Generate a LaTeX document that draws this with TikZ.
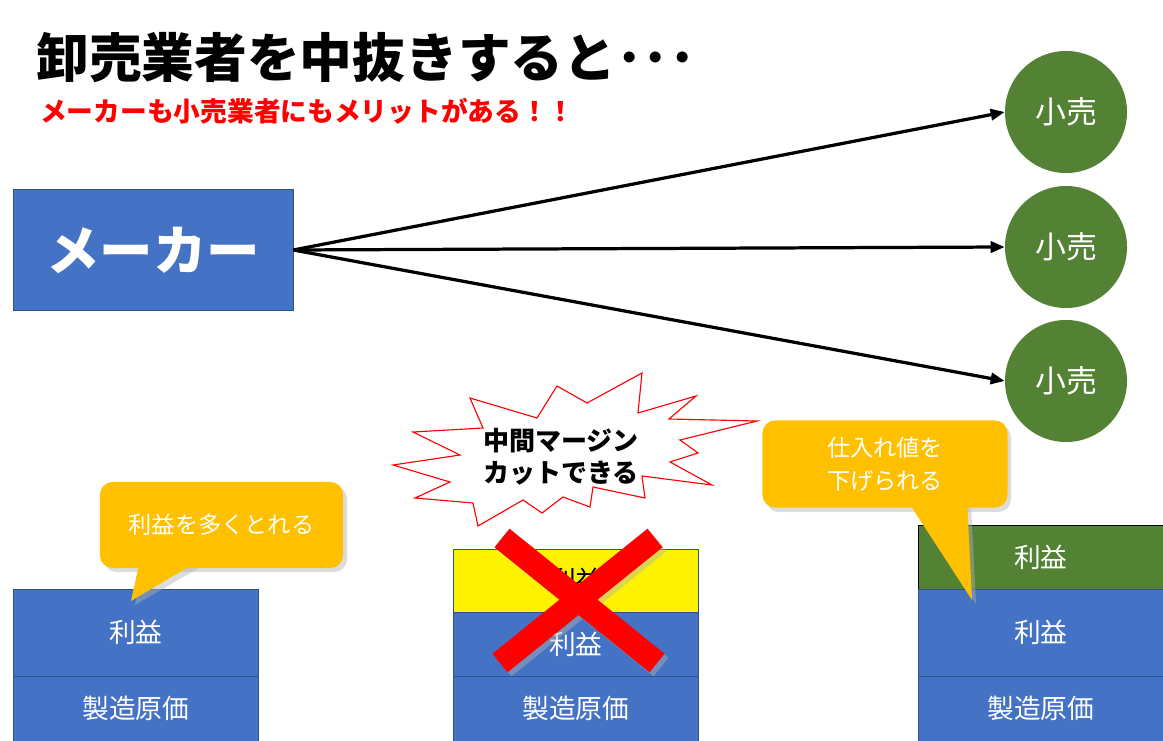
\documentclass[tikz,border=0pt]{standalone}
\usepackage{fontspec}
\setmainfont{Noto Sans CJK JP}
\usetikzlibrary{arrows.meta, positioning}
\definecolor{makerblue}{RGB}{68, 114, 196}
\definecolor{edgeblue}{RGB}{47, 82, 143}
\definecolor{shopgreen}{RGB}{84, 130, 53}
\definecolor{calloutgold}{RGB}{255, 192, 0}

\begin{document}
\begin{tikzpicture}[x=0.025cm, y=-0.025cm,
  maker/.style={draw=edgeblue, fill=makerblue, text=white, minimum width=7cm, minimum height=3.025cm, inner sep=0pt, font=\bfseries\fontsize{38}{44}\selectfont},
  shop/.style={circle, fill=shopgreen, text=white, minimum size=3.05cm, inner sep=0pt, font=\fontsize{22}{26}\selectfont},
  layer/.style={draw=edgeblue, fill=makerblue, text=white, minimum width=6.125cm, anchor=north west, inner sep=0pt, font=\fontsize{19}{22}\selectfont},
  sell/.style={-{Triangle[length=10pt, width=8pt]}, line width=2.3pt},
  callout/.style={fill=calloutgold, rounded corners=9pt, text=white, align=center, inner sep=0pt, font=\fontsize{16.5}{23}\selectfont},
  shade/.style={fill=black!30, opacity=0.45}
]
  \useasboundingbox (0,0) rectangle (1163,741);

  % heading
  \node[anchor=west, inner sep=0pt, font=\bfseries\fontsize{37.5}{42}\selectfont] (title) at (36,58) {卸売業者を中抜きすると･･･};
  \node[anchor=west, inner sep=0pt, text=red, font=\bfseries\fontsize{19}{22}\selectfont] (merit) at (40,111) {メーカーも小売業者にもメリットがある！！};

  % maker and shops
  \node[maker] (maker) at (153,250) {メーカー};
  \node[shop] (shop1) at (1066,112) {小売};
  \node[shop] (shop2) at (1066,247) {小売};
  \node[shop] (shop3) at (1066,381) {小売};
  \draw[sell] (maker.east) -- (shop1.west);
  \draw[sell] (maker.east) -- (shop2.west);
  \draw[sell] (maker.east) -- (shop3.west);

  % left stack
  \node[layer, minimum height=2.175cm] (profitL) at (13,589) {利益};
  \node[layer, minimum height=1.625cm] (costL) at (13,676) {製造原価};

  % middle stack
  \node[layer, fill=yellow, text=black, minimum height=1.575cm] (marginM) at (453,549) {利益};
  \node[layer, minimum height=1.6cm] (profitM) at (453,612) {利益};
  \node[layer, minimum height=1.625cm] (costM) at (453,676) {製造原価};

  % right stack
  \node[layer, draw=black, fill=shopgreen, minimum height=1.6cm] (shopR) at (918,525) {利益};
  \node[layer, minimum height=2.175cm] (profitR) at (918,589) {利益};
  \node[layer, minimum height=1.625cm] (costR) at (918,676) {製造原価};

  % callouts
  \fill[shade, rounded corners=9pt] (104,486) rectangle (347,572);
  \fill[shade] (144,565) -- (135,605) -- (204,565) -- cycle;
  \fill[calloutgold] (140,560) -- (131,601) -- (200,560) -- cycle;
  \node[callout, minimum width=6.075cm, minimum height=2.15cm] (moreL) at (221.5,525) {利益を多くとれる};

  \fill[shade, rounded corners=9pt] (766,425) rectangle (1011,512);
  \fill[shade] (911,505) -- (976,604) -- (971,505) -- cycle;
  \fill[calloutgold] (907,500) -- (972,600) -- (967,500) -- cycle;
  \node[callout, minimum width=6.125cm, minimum height=2.175cm] (cheapR) at (885,464) {仕入れ値を\\下げられる};

  % burst
  \draw[red, fill=white, line width=0.8pt] (470,398) -- (537,418) -- (557,386) -- (587,403)
    -- (642,373) -- (638,413) -- (696,396) -- (669,419) -- (757,421) -- (680,440)
    -- (698,453) -- (670,462) -- (712,485) -- (642,476) -- (645,498) -- (593,487)
    -- (590,507) -- (563,497) -- (542,513) -- (523,500) -- (478,526) -- (473,503)
    -- (415,498) -- (450,482) -- (393,465) -- (460,455) -- (413,432) -- (483,428) -- cycle;
  \node[align=center, inner sep=0pt, font=\bfseries\fontsize{18.5}{23}\selectfont] (cut) at (561,457) {中間マージン\\カットできる};

  % cross
  \draw[shade, draw=black!30, line width=17pt] (506,542) -- (661,667) (659,542) -- (504,667);
  \draw[red, line width=17pt] (502,538) -- (657,663) (655,538) -- (500,663);
\end{tikzpicture}
\end{document}
